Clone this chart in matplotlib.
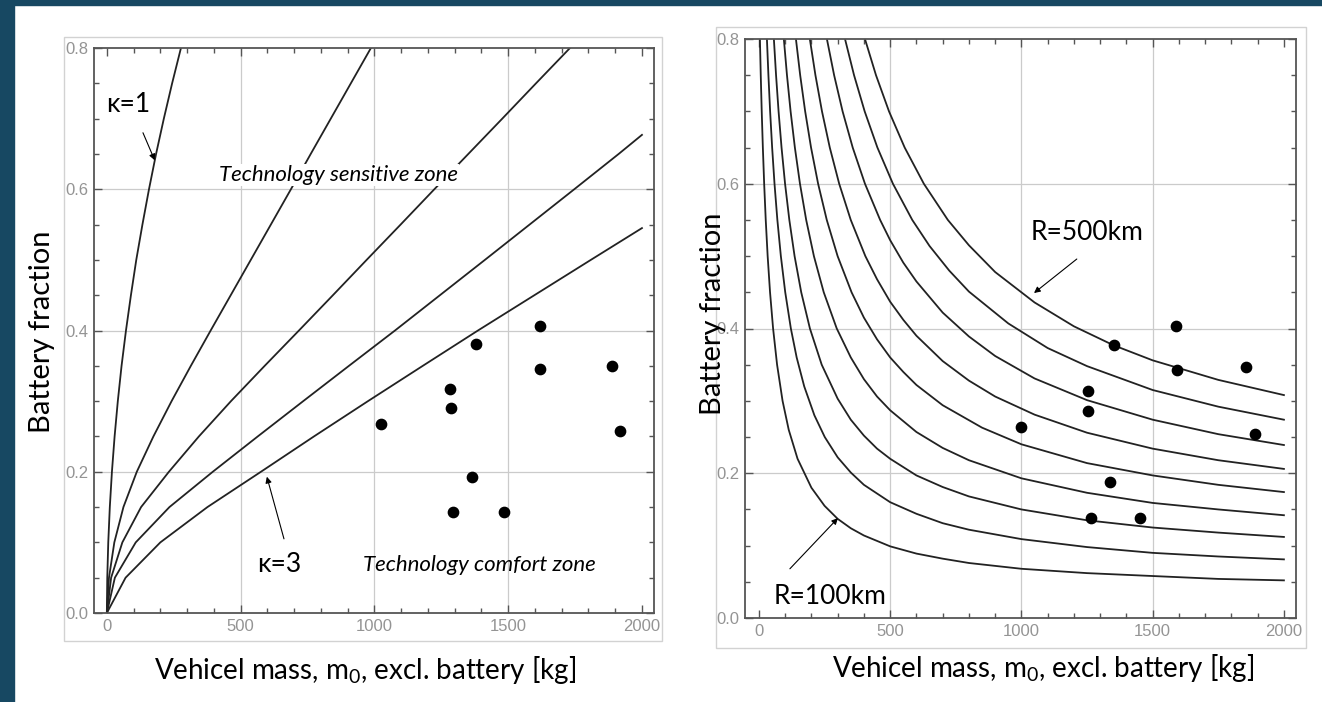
import matplotlib
matplotlib.use('Agg')
import matplotlib.pyplot as plt
from matplotlib.patches import Rectangle
from matplotlib.ticker import MultipleLocator

plt.rcParams['font.family'] = ['Lato', 'DejaVu Sans']
plt.rcParams['mathtext.fontset'] = 'custom'
plt.rcParams['mathtext.rm'] = 'Lato'

# ---- left panel: battery fraction vs vehicle mass for kappa curves ----
kappa_frac = [0, 0.05, 0.1, 0.15, 0.2, 0.25, 0.3, 0.35, 0.4, 0.45, 0.5, 0.55, 0.6, 0.65, 0.7, 0.75, 0.8]
k1_mass = [0, 1.6, 5.3, 11.1, 19, 29, 41, 55, 71.5, 90, 110, 133, 157.5, 184, 213, 244, 277]
k2_mass = [0, 8, 28, 62, 112, 174, 242, 314, 388, 463, 538, 613, 688, 762, 837, 912, 987]
k3_mass = [0, 16, 58, 128, 232, 344, 464, 590, 718, 845, 971, 1098, 1224, 1351, 1478, 1604, 1731]
k4_frac = [0, 0.05, 0.1, 0.15, 0.2, 0.25, 0.3, 0.35, 0.4, 0.45, 0.5, 0.55, 0.6, 0.65, 0.677]
k4_mass = [0, 30, 108, 234, 396, 564, 734, 905, 1077, 1245, 1413, 1580, 1747, 1913, 2000]
k5_frac = [0, 0.05, 0.1, 0.15, 0.2, 0.25, 0.3, 0.35, 0.4, 0.45, 0.5, 0.545]
k5_mass = [0, 70, 200, 376, 576, 774, 976, 1181, 1387, 1598, 1809, 2000]

# vehicles (mass excl. battery, battery fraction)
left_mass = [1024, 1282, 1286, 1381, 1619, 1619, 1888, 1918, 1364, 1293, 1484]
left_frac = [0.268, 0.317, 0.290, 0.381, 0.406, 0.345, 0.350, 0.258, 0.193, 0.143, 0.143]

# ---- right panel: constant range curves R = 100 ... 500 km ----
range_km = [100, 150, 200, 250, 300, 350, 400, 450, 500]
range_mass = [
    [3.8, 7.0, 10.7, 15.0, 20.0, 26.0, 33.3, 42.4, 54.0, 69.2, 90.1, 113.6, 147.2, 200, 250, 300, 350, 400,
     500, 600, 700, 800, 1000, 1250, 1500, 1750, 2000],
    [30.5, 36.2, 42.7, 50.4, 59.4, 70.3, 83.6, 100.3, 121.7, 143.8, 172.6, 211.4, 250.9, 300, 350, 400,
     500, 600, 700, 800, 1000, 1250, 1500, 1750, 2000],
    [57, 65.3, 74.9, 86.2, 99.6, 115.9, 135.9, 161.2, 194.3, 239.2, 300, 350, 400, 450, 500, 600, 700, 800,
     1000, 1250, 1500, 1750, 2000],
    [95, 106.9, 120.7, 137.0, 156.4, 180.1, 209.5, 247.0, 296.5, 350, 400, 450, 500, 600, 700, 800, 1000,
     1250, 1500, 1750, 2000],
    [141, 157.2, 176.2, 198.6, 225.5, 258.5, 299.8, 353, 400, 450, 500, 550, 600, 700, 850, 1000, 1250,
     1500, 1750, 2000],
    [194, 215.3, 240.3, 270, 305.8, 349.9, 405.5, 450, 500, 550, 600, 700, 800, 900, 1050, 1250, 1500,
     1750, 2000],
    [259, 286.5, 318.8, 357.3, 404, 461.8, 500, 550, 600, 700, 800, 900, 1050, 1250, 1500, 1750, 2000],
    [328, 362.4, 402.9, 451.4, 510.5, 584.2, 650, 725, 800, 950, 1100, 1250, 1500, 1750, 2000],
    [404, 446, 495.6, 555.3, 628.3, 719.7, 800, 900, 1050, 1200, 1350, 1500, 1750, 2000],
]
range_frac = [
    [0.8, 0.75, 0.7, 0.65, 0.6, 0.55, 0.5, 0.45, 0.4, 0.35, 0.3, 0.26, 0.22, 0.180, 0.155, 0.137, 0.124,
     0.114, 0.099, 0.089, 0.082, 0.076, 0.068, 0.062, 0.058, 0.054, 0.052],
    [0.8, 0.75, 0.7, 0.65, 0.6, 0.55, 0.5, 0.45, 0.4, 0.36, 0.32, 0.28, 0.25, 0.222, 0.201, 0.184,
     0.160, 0.144, 0.131, 0.122, 0.109, 0.098, 0.090, 0.085, 0.081],
    [0.8, 0.75, 0.7, 0.65, 0.6, 0.55, 0.5, 0.45, 0.4, 0.35, 0.303, 0.274, 0.252, 0.234, 0.220, 0.197,
     0.181, 0.168, 0.150, 0.135, 0.125, 0.118, 0.112],
    [0.8, 0.75, 0.7, 0.65, 0.6, 0.55, 0.5, 0.45, 0.4, 0.360, 0.330, 0.306, 0.287, 0.257, 0.235, 0.218,
     0.193, 0.173, 0.159, 0.150, 0.142],
    [0.8, 0.75, 0.7, 0.65, 0.6, 0.55, 0.5, 0.45, 0.415, 0.385, 0.360, 0.340, 0.322, 0.294, 0.263, 0.240,
     0.214, 0.197, 0.184, 0.174],
    [0.8, 0.75, 0.7, 0.65, 0.6, 0.55, 0.5, 0.468, 0.437, 0.412, 0.390, 0.355, 0.328, 0.306, 0.281, 0.256,
     0.234, 0.218, 0.206],
    [0.8, 0.75, 0.7, 0.65, 0.6, 0.55, 0.522, 0.491, 0.465, 0.422, 0.389, 0.362, 0.331, 0.301, 0.274,
     0.254, 0.239],
    [0.8, 0.75, 0.7, 0.65, 0.6, 0.55, 0.514, 0.480, 0.451, 0.407, 0.373, 0.348, 0.315, 0.292, 0.274],
    [0.8, 0.75, 0.7, 0.65, 0.6, 0.55, 0.515, 0.478, 0.436, 0.403, 0.377, 0.356, 0.329, 0.308],
]

right_mass = [998, 1253, 1255, 1352, 1589, 1592, 1855, 1889, 1337, 1265, 1451]
right_frac = [0.264, 0.313, 0.286, 0.377, 0.403, 0.342, 0.347, 0.254, 0.188, 0.138, 0.138]

W, H = 1322, 702
fig = plt.figure(figsize=(W / 100, H / 100), dpi=100)

def px_rect(x0, y0, x1, y1):
    # pixel box (top-left origin) -> figure fraction rect
    return [x0 / W, 1 - y1 / H, (x1 - x0) / W, (y1 - y0) / H]

# slide background strips
slide_blue = '#174862'
fig.patches.append(Rectangle((0, 0), 14 / W, 1, transform=fig.transFigure, color=slide_blue, zorder=0))
fig.patches.append(Rectangle((0, 1 - 5 / H), 1, 5 / H, transform=fig.transFigure, color=slide_blue, zorder=0))

# light frames around each plot
for box in [px_rect(64, 37, 662, 641), px_rect(716, 27, 1306, 648)]:
    fig.patches.append(Rectangle((box[0], box[1]), box[2], box[3], transform=fig.transFigure,
                                 fill=False, ec='#d2d2d2', lw=1.0, zorder=1))


def style_axes(ax, xlim):
    ax.set_xlim(*xlim)
    ax.set_ylim(0, 0.8)
    ax.xaxis.set_minor_locator(MultipleLocator(100))
    ax.yaxis.set_minor_locator(MultipleLocator(0.05))
    ax.set_xticks([0, 500, 1000, 1500, 2000])
    ax.set_xticklabels(['0', '500', '1000', '1500', '2000'])
    ax.set_yticks([0, 0.2, 0.4, 0.6, 0.8])
    ax.set_yticklabels(['0.0', '0.2', '0.4', '0.6', '0.8'])
    ax.tick_params(which='both', direction='in', top=True, right=True, color='#555555', width=1.0)
    ax.tick_params(which='major', length=6, labelsize=12, labelcolor='#949494', pad=4)
    ax.tick_params(which='minor', length=3.5)
    for lab in ax.get_xticklabels() + ax.get_yticklabels():
        lab.set_family('Liberation Sans')
    for s in ax.spines.values():
        s.set_color('#555555')
        s.set_linewidth(1.3)
    for v in [500, 1000, 1500]:
        ax.axvline(v, color='#cbcbcb', lw=0.9, zorder=0)
    for v in [0.2, 0.4, 0.6]:
        ax.axhline(v, color='#cbcbcb', lw=0.9, zorder=0)


arrow_kw = dict(arrowstyle='-|>', color='black', lw=0.8, mutation_scale=9, shrinkA=0, shrinkB=0)
curve_kw = dict(color='#222222', lw=1.3, zorder=2)

# ---------------- left panel ----------------
ax1 = fig.add_axes(px_rect(94, 48, 654, 613))
style_axes(ax1, (-48, 2045))
ax1.plot(k1_mass, kappa_frac, **curve_kw)
ax1.plot(k2_mass, kappa_frac, **curve_kw)
ax1.plot(k3_mass, kappa_frac, **curve_kw)
ax1.plot(k4_mass, k4_frac, **curve_kw)
ax1.plot(k5_mass, k5_frac, **curve_kw)
ax1.scatter(left_mass, left_frac, s=55, color='black', zorder=3)

ax1.text(78, 0.72, 'κ=1', fontsize=19, ha='center', va='center')
ax1.annotate('', xy=(179, 0.641), xytext=(135, 0.680), arrowprops=arrow_kw)
ax1.text(643, 0.068, 'κ=3', fontsize=19, ha='center', va='center')
ax1.annotate('', xy=(598, 0.193), xytext=(662, 0.105), arrowprops=arrow_kw)
ax1.text(864, 0.620, 'Technology sensitive zone', fontsize=16, style='italic', ha='center', va='center',
         bbox=dict(facecolor='white', edgecolor='none', pad=1), zorder=4)
ax1.text(1394, 0.068, 'Technology comfort zone', fontsize=16, style='italic', ha='center', va='center')

# ---------------- right panel ----------------
ax2 = fig.add_axes(px_rect(745, 39, 1296, 618))
style_axes(ax2, (-53, 2046))
for m, f in zip(range_mass, range_frac):
    ax2.plot(m, f, **curve_kw)
ax2.scatter(right_mass, right_frac, s=55, color='black', zorder=3)

ax2.text(1250, 0.533, 'R=%dkm' % range_km[-1], fontsize=19, ha='center', va='center')
ax2.annotate('', xy=(1048, 0.449), xytext=(1211, 0.496), arrowprops=arrow_kw)
ax2.text(270, 0.030, 'R=%dkm' % range_km[0], fontsize=19, ha='center', va='center')
ax2.annotate('', xy=(301, 0.138), xytext=(118, 0.068), arrowprops=arrow_kw)

# axis titles
xlab = 'Vehicel mass, m$_0$, excl. battery [kg]'
fig.text(365 / W, 1 - 670 / H, xlab, fontsize=20, ha='center', va='center')
fig.text(1043 / W, 1 - 668 / H, xlab, fontsize=20, ha='center', va='center')
fig.text(42 / W, 1 - 332 / H, 'Battery fraction', fontsize=21, rotation=90, ha='center', va='center')
fig.text(713 / W, 1 - 314 / H, 'Battery fraction', fontsize=21, rotation=90, ha='center', va='center', zorder=5)

fig.savefig('out.png', dpi=100)
